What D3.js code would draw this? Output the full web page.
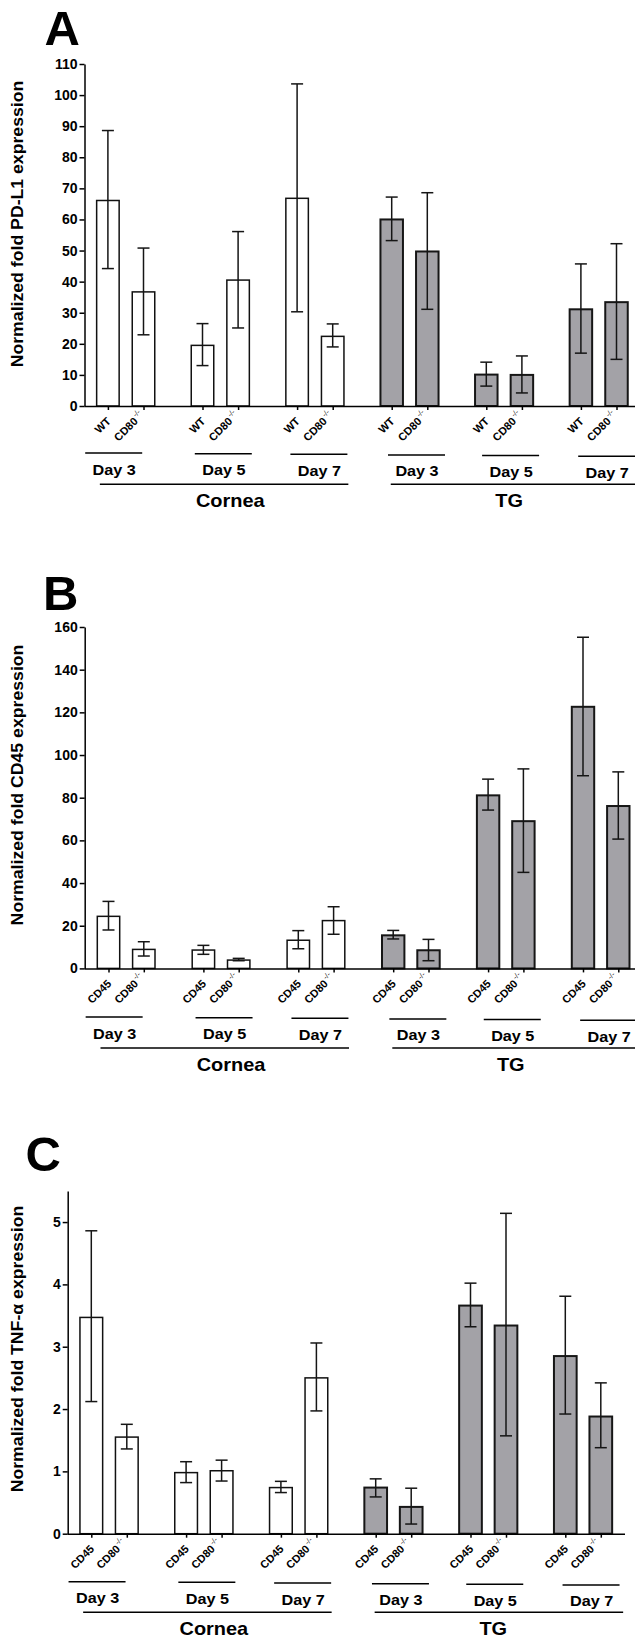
<!DOCTYPE html>
<html><head><meta charset="utf-8">
<script src="https://cdn.jsdelivr.net/npm/d3@7"></script>
<style>
html,body{margin:0;padding:0;background:#fff;}
svg{display:block;}
text{font-family:"Liberation Sans",Arial,Helvetica,sans-serif;}
</style></head><body>
<svg id="chart" width="635" height="1639"></svg>
<script>
// ---------------- DATA ----------------
const tissues = ["Cornea", "TG"];
const days = ["Day 3", "Day 5", "Day 7"];
const barLabelsA = ["WT", "CD80"];
const barLabelsBC = ["CD45", "CD80"];
const knockoutMark = "-/-";

const titleA = "Normalized fold PD-L1 expression";
const titleB = "Normalized fold CD45 expression";
const titleC = "Normalized fold TNF-\u03b1 expression";

const ticksA = [0, 10, 20, 30, 40, 50, 60, 70, 80, 90, 100, 110];
const ticksB = [0, 20, 40, 60, 80, 100, 120, 140, 160];
const ticksC = [0, 1, 2, 3, 4, 5];

// order: Cornea D3 (WT, CD80), D5, D7, TG D3, D5, D7
const meanA = [66.1, 36.7, 19.5, 40.5, 66.8, 22.4, 60.0, 49.7, 10.1, 10.0, 31.1, 33.4];
const hiA   = [88.6, 50.8, 26.5, 56.1, 103.6, 26.4, 67.2, 68.6, 14.1, 16.1, 45.7, 52.2];
const loA   = [44.2, 22.9, 13.0, 25.1, 30.3, 19.0, 53.2, 31.1, 6.4, 4.2, 17.0, 15.0];

const meanB = [24.4, 8.9, 8.6, 3.9, 13.2, 22.4, 15.5, 8.5, 81.1, 69.0, 122.6, 76.1];
const hiB   = [31.4, 12.5, 10.8, 4.7, 17.7, 28.9, 17.8, 13.6, 88.7, 93.5, 155.2, 92.1];
const loB   = [18.0, 5.8, 6.6, 3.6, 9.2, 16.0, 13.8, 3.6, 74.2, 45.0, 90.3, 60.6];

const meanC = [3.47, 1.55, 0.98, 1.01, 0.74, 2.50, 0.74, 0.43, 3.66, 3.34, 2.85, 1.88];
const hiC   = [4.86, 1.755, 1.155, 1.18, 0.84, 3.06, 0.88, 0.73, 4.02, 5.14, 3.81, 2.42];
const loC   = [2.12, 1.36, 0.82, 0.845, 0.66, 1.97, 0.59, 0.155, 3.32, 1.57, 1.92, 1.38];

// ---------------- LAYOUT ----------------
const FONT = '"Liberation Sans",Arial,Helvetica,sans-serif';
const STRETCH = 1.08;
const dayShift = [-12, 3, 4, 7, 6.5, 8];
const panels = [
  {letter:"A", letterX:44.5, letterY:45, title:titleA, titleY:224, ticks:ticksA, yMax:110,
   mean:meanA, hi:hiA, lo:loA, labels:barLabelsA, labelSize:11,
   axisX:84.5, y0:406, yTop:64, firstCenter:107.9, step:94.6, pair:35.6, barW:22.5,
   xEnd:635, dayY:453, longY:484.3, supDx:-5},
  {letter:"B", letterX:43, letterY:610, title:titleB, titleY:785, ticks:ticksB, yMax:160,
   mean:meanB, hi:hiB, lo:loB, labels:barLabelsBC, labelSize:11,
   axisX:84.7, y0:968.4, yTop:627, firstCenter:108.5, step:94.9, pair:35.3, barW:22.4,
   xEnd:635, dayY:1017, longY:1048, supDx:-5},
  {letter:"C", letterX:25.5, letterY:1171, title:titleC, titleY:1349, ticks:ticksC, yMax:5.5,
   mean:meanC, hi:hiC, lo:loC, labels:barLabelsBC, labelSize:11,
   axisX:67.7, y0:1533.7, yTop:1190.9, firstCenter:91.3, step:94.8, pair:35.5, barW:22.7,
   xEnd:625, dayY:1581.7, longY:1612.3, supDx:-6}
];

const svg = d3.select("#chart");

function drawPanel(c) {
  const g = svg.append("g");
  const nGroups = tissues.length * days.length;
  const W = c.pair + c.barW;
  const p = 1 - W / c.step;
  const firstLeft = c.firstCenter - c.barW / 2;
  const xGroup = d3.scaleBand().domain(d3.range(nGroups))
      .range([firstLeft, firstLeft + c.step * (nGroups - p)])
      .paddingInner(p).paddingOuter(0);
  const xSub = d3.scaleBand().domain([0, 1]).range([0, W])
      .paddingInner(1 - c.barW / c.pair).paddingOuter(0);
  const y = d3.scaleLinear().domain([0, c.yMax]).range([c.y0, c.yTop]);

  const bars = c.mean.map((v, i) => ({
    i, v, hi: c.hi[i], lo: c.lo[i],
    grp: Math.floor(i / 2), sub: i % 2,
    tissue: Math.floor(i / 2) < days.length ? 0 : 1
  }));
  bars.forEach(b => {
    b.x = xGroup(b.grp) + xSub(b.sub);
    b.cx = b.x + xSub.bandwidth() / 2;
  });

  // bars
  g.selectAll("rect.bar").data(bars).join("rect")
    .attr("class", "bar")
    .attr("x", d => d.x)
    .attr("y", d => y(d.v))
    .attr("width", xSub.bandwidth())
    .attr("height", d => y(0) - y(d.v))
    .attr("fill", d => d.tissue === 0 ? "#ffffff" : "#a3a2a7")
    .attr("stroke", d => d.tissue === 0 ? "#111" : "#161616")
    .attr("stroke-width", d => d.tissue === 0 ? 1.5 : 2);

  // error bars
  const capW = 12;
  const eb = g.selectAll("g.err").data(bars).join("g").attr("class", "err")
    .attr("stroke", "#151515").attr("stroke-width", 1.5);
  eb.append("line").attr("x1", d => d.cx).attr("x2", d => d.cx)
    .attr("y1", d => y(d.lo)).attr("y2", d => y(d.hi));
  eb.append("line").attr("x1", d => d.cx - capW / 2).attr("x2", d => d.cx + capW / 2)
    .attr("y1", d => y(d.hi)).attr("y2", d => y(d.hi));
  eb.append("line").attr("x1", d => d.cx - capW / 2).attr("x2", d => d.cx + capW / 2)
    .attr("y1", d => y(d.lo)).attr("y2", d => y(d.lo));

  // y axis
  const ya = g.append("g").attr("transform", `translate(${c.axisX},0)`)
    .call(d3.axisLeft(y).tickValues(c.ticks).tickFormat(d3.format("d"))
      .tickSize(5).tickSizeOuter(0).tickPadding(2))
    .attr("font-family", FONT).attr("font-size", 14).attr("font-weight", "bold");
  ya.select(".domain").attr("stroke", "#000").attr("stroke-width", 1.5);
  ya.selectAll(".tick line").attr("stroke", "#000").attr("stroke-width", 1.5);
  ya.selectAll(".tick text").attr("fill", "#000");

  // x axis (ticks at bar centers)
  const xo = d3.scaleOrdinal().domain(bars.map(d => d.i)).range(bars.map(d => d.cx));
  const xa = g.append("g").attr("transform", `translate(0,${c.y0})`)
    .call(d3.axisBottom(xo).tickSize(4).tickSizeOuter(0).tickFormat(""));
  xa.select(".domain").remove();
  xa.selectAll(".tick line").attr("stroke", "#000").attr("stroke-width", 1.5);
  g.append("line").attr("x1", c.axisX).attr("x2", c.xEnd)
    .attr("y1", c.y0 + 0.5).attr("y2", c.y0 + 0.5)
    .attr("stroke", "#000").attr("stroke-width", 1.5);

  // rotated bar labels
  const lab = g.selectAll("g.lab").data(bars).join("g").attr("class", "lab")
    .attr("transform", d => `translate(${d.cx + (d.sub === 1 ? c.supDx : 3.5)},${c.y0 + 16}) rotate(-45)`);
  lab.append("text").attr("text-anchor", "end")
    .attr("font-size", c.labelSize).attr("font-weight", "bold")
    .attr("fill", "#000")
    .text(d => c.labels[d.sub]);
  lab.filter(d => d.sub === 1).append("text").attr("text-anchor", "start")
    .attr("x", 1.2).attr("y", -5).attr("font-size", 7.5).attr("fill", "#000")
    .text(knockoutMark);

  // day lines & labels
  const groupsData = d3.range(nGroups).map(k => ({k, label: days[k % days.length],
    cx: xGroup(k) + xGroup.bandwidth() / 2 + dayShift[k]}));
  g.selectAll("line.day").data(groupsData).join("line").attr("class", "day")
    .attr("x1", d => d.cx - 28.5).attr("x2", d => d.cx + 28.5)
    .attr("y1", d => c.dayY + 0.65 * d.k).attr("y2", d => c.dayY + 0.65 * d.k)
    .attr("stroke", "#000").attr("stroke-width", 1.5);
  g.selectAll("text.day").data(groupsData).join("text").attr("class", "day")
    .attr("transform", d => `translate(${d.cx + 0.5},${c.dayY + 0.65 * d.k + 21.5}) scale(${STRETCH},1)`)
    .attr("text-anchor", "middle").attr("font-size", 15).attr("font-weight", "bold")
    .text(d => d.label);

  // tissue lines & labels
  const tData = tissues.map((t, ti) => {
    const first = ti * days.length;
    const start = xGroup(first) + (ti === 0 ? 3.2 : 10.3);
    const mid = first + 1;
    return {t, start, end: start + 248.5,
      tx: xGroup(mid) + xGroup.bandwidth() / 2 + (ti === 0 ? 10 : 5)};
  });
  g.selectAll("line.tis").data(tData).join("line").attr("class", "tis")
    .attr("x1", d => d.start).attr("x2", d => d.end)
    .attr("y1", c.longY).attr("y2", c.longY)
    .attr("stroke", "#000").attr("stroke-width", 1.5);
  g.selectAll("text.tis").data(tData).join("text").attr("class", "tis")
    .attr("transform", d => `translate(${d.tx},${c.longY + 22.5}) scale(1.05,1)`)
    .attr("text-anchor", "middle").attr("font-size", 19).attr("font-weight", "bold")
    .text(d => d.t);

  // y title
  g.append("text").attr("transform", `translate(23,${c.titleY}) rotate(-90) scale(1.04,1)`)
    .attr("text-anchor", "middle").attr("font-size", 17).attr("font-weight", "bold")
    .text(c.title);

  // panel letter
  g.append("text").attr("x", c.letterX).attr("y", c.letterY)
    .attr("font-size", 49).attr("font-weight", "bold").text(c.letter);
}

panels.forEach(drawPanel);
</script>
</body></html>
